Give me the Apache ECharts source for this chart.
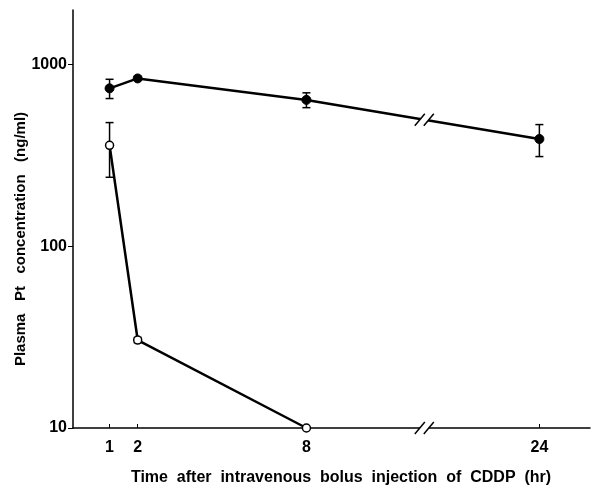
<!DOCTYPE html>
<html>
<head>
<meta charset="utf-8">
<script src="https://cdn.jsdelivr.net/npm/echarts@6/dist/echarts.min.js"></script>
<style>
  html, body { margin: 0; padding: 0; background: #fff; }
  #main { width: 593px; height: 494px; }
</style>
</head>
<body>
<div id="main"></div>
<script>
// Sampling times (hr) and axis ticks
const hours = [1, 2, 8, 24];
const xTickHours = [1, 2, 8, 24];
const yTicks = [10, 100, 1000];

// Filled markers: mean and SD of plasma Pt (ng/ml)
const filledMean = [741, 840, 640, 390];
const filledSD = [90, 20, 60, 78];

// Open markers: mean and SD of plasma Pt (ng/ml)
const openHours = [1, 2, 8];
const openMean = [360, 30.5, 10];
const openSD = [120, 1, 0];

// Omitted stretch of the time axis
const timeBreak = { start: 12.1, end: 20 };

const FONT = '"Liberation Sans", Arial, sans-serif';
const chart = echarts.init(document.getElementById('main'), null, { renderer: 'canvas' });

function errorData(xs, means, sds) {
  return xs.map((x, i) => [x, means[i] - sds[i], means[i] + sds[i]]);
}

function renderErrorBar(params, api) {
  const x = api.value(0), lo = api.value(1), hi = api.value(2);
  if (!(hi > lo)) return null;
  const a = api.coord([x, hi]);
  const b = api.coord([x, lo]);
  const w = 4;
  const st = { stroke: '#000', lineWidth: 1.5 };
  return {
    type: 'group',
    children: [
      { type: 'line', shape: { x1: a[0], y1: a[1], x2: b[0], y2: b[1] }, style: st },
      { type: 'line', shape: { x1: a[0] - w, y1: a[1], x2: a[0] + w, y2: a[1] }, style: st },
      { type: 'line', shape: { x1: b[0] - w, y1: b[1], x2: b[0] + w, y2: b[1] }, style: st }
    ]
  };
}

chart.setOption({
  animation: false,
  backgroundColor: '#fff',
  grid: { left: 73, right: 3, top: 10, bottom: 66 },
  xAxis: {
    type: 'value',
    min: -0.3,
    max: 25.8,
    breaks: [{ start: timeBreak.start, end: timeBreak.end, gap: '1%' }],
    breakArea: { show: false },
    axisLine: { show: true, onZero: false, lineStyle: { color: '#000', width: 1.5 } },
    axisTick: { show: true, inside: true, length: 4, customValues: xTickHours, lineStyle: { color: '#000', width: 1 } },
    axisLabel: { customValues: xTickHours, margin: 12, color: '#000', fontWeight: 'bold', fontSize: 16, fontFamily: FONT,
      formatter: v => String(v) },
    splitLine: { show: false }
  },
  yAxis: {
    type: 'log',
    logBase: 10,
    min: 10,
    max: 2000,
    axisLine: { show: true, onZero: false, lineStyle: { color: '#000', width: 1.5 } },
    axisTick: { show: true, length: 5, customValues: yTicks, lineStyle: { color: '#000', width: 1 } },
    axisLabel: { customValues: yTicks, margin: 6, color: '#000', fontWeight: 'bold', fontSize: 16, fontFamily: FONT,
      formatter: v => String(Math.round(v)) },
    minorTick: { show: false },
    splitLine: { show: false }
  },
  series: [
    {
      type: 'line',
      data: hours.map((h, i) => [h, filledMean[i]]),
      symbol: 'circle',
      symbolSize: 9,
      showAllSymbol: true,
      lineStyle: { color: '#000', width: 2.5 },
      itemStyle: { color: '#000', borderColor: '#000', borderWidth: 1 },
      z: 3
    },
    {
      type: 'line',
      data: openHours.map((h, i) => [h, openMean[i]]),
      symbol: 'circle',
      symbolSize: 8,
      showAllSymbol: true,
      lineStyle: { color: '#000', width: 2.5 },
      itemStyle: { color: '#fff', borderColor: '#000', borderWidth: 1.5 },
      z: 3
    },
    {
      type: 'custom',
      renderItem: renderErrorBar,
      data: errorData(hours, filledMean, filledSD),
      z: 2
    },
    {
      type: 'custom',
      renderItem: renderErrorBar,
      data: errorData(openHours, openMean, openSD),
      z: 2
    }
  ],
  graphic: [
    {
      type: 'text',
      x: 21, y: 239, rotation: Math.PI / 2,
      style: {
        text: 'Plasma   Pt   concentration   (ng/ml)',
        fill: '#000', font: 'bold 15px ' + FONT,
        align: 'center', verticalAlign: 'middle'
      }
    },
    {
      type: 'text',
      x: 341, y: 478,
      style: {
        text: 'Time  after  intravenous  bolus  injection  of  CDDP  (hr)',
        fill: '#000', font: 'bold 16px ' + FONT,
        align: 'center', verticalAlign: 'middle'
      }
    }
  ]
});

// "//" marks where the time axis and the 8-24 h segment are interrupted
function breakMark(cx, cy, id) {
  const h = 6, s = 5, d = 4.5;
  const st = { stroke: '#000', lineWidth: 1.5 };
  return [
    { type: 'polygon', id: id + '-gap', z: 100,
      shape: { points: [[cx - d - s, cy + h], [cx - d + s, cy - h], [cx + d + s, cy - h], [cx + d - s, cy + h]] },
      style: { fill: '#fff' } },
    { type: 'line', id: id + '-a', z: 101,
      shape: { x1: cx - d - s, y1: cy + h, x2: cx - d + s, y2: cy - h }, style: st },
    { type: 'line', id: id + '-b', z: 101,
      shape: { x1: cx + d - s, y1: cy + h, x2: cx + d + s, y2: cy - h }, style: st }
  ];
}

const bx = (chart.convertToPixel({ xAxisIndex: 0 }, timeBreak.start) +
            chart.convertToPixel({ xAxisIndex: 0 }, timeBreak.end)) / 2;
const p8 = chart.convertToPixel({ gridIndex: 0 }, [hours[2], filledMean[2]]);
const p24 = chart.convertToPixel({ gridIndex: 0 }, [hours[3], filledMean[3]]);
const lineY = p8[1] + (p24[1] - p8[1]) * (bx - p8[0]) / (p24[0] - p8[0]);
const axisY = chart.convertToPixel({ yAxisIndex: 0 }, yTicks[0]);

chart.setOption({
  graphic: breakMark(bx, lineY, 'brk-line').concat(breakMark(bx, axisY, 'brk-axis'))
});
</script>
</body>
</html>
